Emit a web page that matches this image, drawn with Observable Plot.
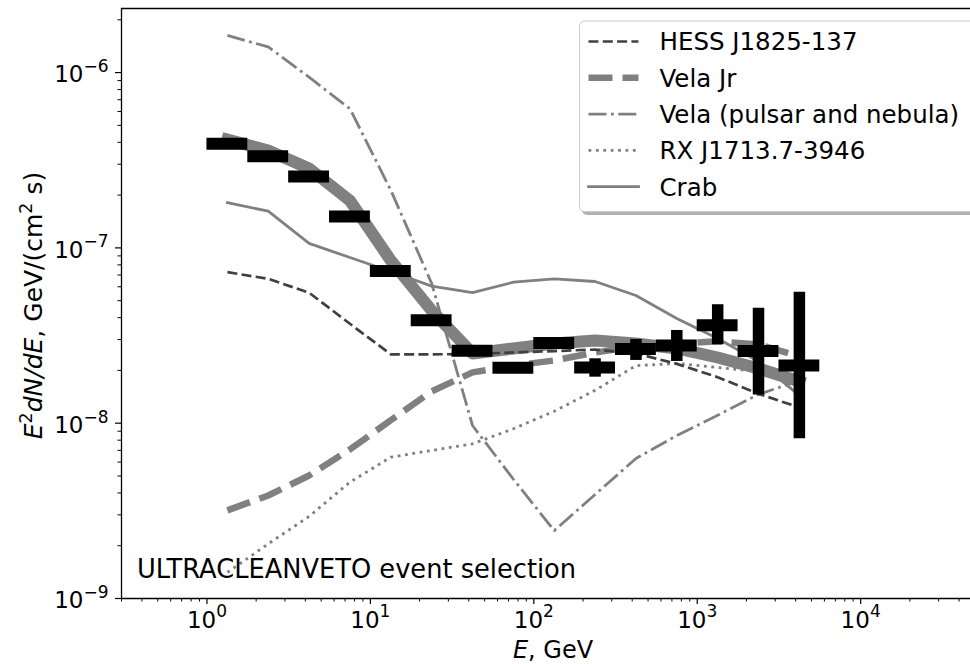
<!DOCTYPE html>
<html>
<head>
<meta charset="utf-8">
<script src="https://cdn.jsdelivr.net/npm/d3@7"></script>
<script src="https://cdn.jsdelivr.net/npm/@observablehq/plot@0.6"></script>
<style>
  html, body { margin: 0; padding: 0; background: #fff; }
  #chart { width: 970px; height: 664px; overflow: hidden; }
</style>
</head>
<body>
<div id="chart"></div>
<script>
// Energy nodes of the model spectra (GeV): centres of 0.25-dex bins
const modelEnergy = [1.334, 2.371, 4.217, 7.499, 13.34, 23.71, 42.17, 74.99, 133.4, 237.1, 421.7, 749.9, 1334, 2371, 4217];

// Model spectra, E^2 dN/dE in GeV/(cm^2 s)
const totalFlux = [4.15e-7, 3.59e-7, 2.84e-7, 1.86e-7, 8.47e-8, 4.39e-8, 2.50e-8, 2.67e-8, 2.85e-8, 2.96e-8, 2.85e-8, 2.67e-8, 2.37e-8, 2.05e-8, 1.73e-8];
const hessFlux = [7.27e-8, 6.66e-8, 5.55e-8, 3.69e-8, 2.47e-8, 2.47e-8, 2.48e-8, 2.53e-8, 2.58e-8, 2.63e-8, 2.50e-8, 2.18e-8, 1.83e-8, 1.47e-8, 1.23e-8];
const velaJrFlux = [3.18e-9, 3.87e-9, 5.03e-9, 7.08e-9, 1.04e-8, 1.52e-8, 1.95e-8, 2.13e-8, 2.28e-8, 2.53e-8, 2.74e-8, 2.85e-8, 2.93e-8, 2.81e-8, 2.40e-8];
const velaFlux = [1.63e-6, 1.40e-6, 9.41e-7, 6.22e-7, 2.13e-7, 6.27e-8, 9.70e-9, 4.79e-9, 2.44e-9, 3.92e-9, 6.29e-9, 8.51e-9, 1.11e-8, 1.46e-8, 1.75e-8];
const rxFlux = [1.41e-9, 2.05e-9, 2.94e-9, 4.61e-9, 6.40e-9, 6.99e-9, 7.63e-9, 9.29e-9, 1.17e-8, 1.54e-8, 2.13e-8, 2.19e-8, 2.08e-8, 1.97e-8, 1.85e-8];
const crabFlux = [1.81e-7, 1.62e-7, 1.06e-7, 8.81e-8, 7.33e-8, 6.05e-8, 5.55e-8, 6.37e-8, 6.66e-8, 6.43e-8, 5.35e-8, 3.96e-8, 3.04e-8, 2.25e-8, 1.44e-8];

// Measured points: energy bins (GeV) and fluxes with uncertainties
const binLow  = [1, 1.778, 3.162, 5.623, 10, 17.78, 31.62, 56.23, 100, 177.8, 316.2, 562.3, 1000, 1778, 3162];
const binHigh = [1.778, 3.162, 5.623, 10, 17.78, 31.62, 56.23, 100, 177.8, 316.2, 562.3, 1000, 1778, 3162, 5623];
const binMid  = [1.334, 2.371, 4.217, 7.499, 13.34, 23.71, 42.17, 74.99, 133.4, 237.1, 421.7, 749.9, 1334, 2371, 4217];
const pointFlux = [3.92e-7, 3.33e-7, 2.55e-7, 1.51e-7, 7.38e-8, 3.86e-8, 2.59e-8, 2.07e-8, 2.87e-8, 2.08e-8, 2.65e-8, 2.77e-8, 3.62e-8, 2.58e-8, 2.13e-8];
const pointLow  = [3.80e-7, 3.24e-7, 2.48e-7, 1.47e-7, 7.15e-8, 3.72e-8, 2.48e-8, 1.97e-8, 2.73e-8, 1.83e-8, 2.28e-8, 2.25e-8, 2.80e-8, 1.45e-8, 8.14e-9];
const pointHigh = [4.04e-7, 3.42e-7, 2.62e-7, 1.55e-7, 7.61e-8, 4.00e-8, 2.70e-8, 2.17e-8, 3.01e-8, 2.33e-8, 3.00e-8, 3.38e-8, 4.74e-8, 4.53e-8, 5.59e-8];

// Axis ticks
const xMajor = [1, 10, 100, 1000, 10000];
const yMajor = [1e-9, 1e-8, 1e-7, 1e-6];
const xDomain = [0.3, 4.7e4];
const yDomain = [1e-9, 2.32e-6];

const xMinor = [];
for (let e = -1; e <= 4; e++) for (let m = 2; m <= 9; m++) {
  const v = m * Math.pow(10, e);
  if (v >= xDomain[0] && v <= xDomain[1]) xMinor.push(v);
}
const yMinor = [];
for (let e = -9; e <= -6; e++) for (let m = 2; m <= 9; m++) {
  const v = m * Math.pow(10, e);
  if (v >= yDomain[0] && v <= yDomain[1]) yMinor.push(v);
}

const series = (ys) => modelEnergy.map((e, i) => ({e, f: ys[i]}));
const idx = d3.range(pointFlux.length);
const grey = "#808080";
const dark = "#404040";
const font = "DejaVu Sans";

// Legend entries with the line style of each source
const legendItems = [
  {label: "HESS J1825-137", stroke: dark, width: 2.7, dash: "10,4.3"},
  {label: "Vela Jr", stroke: grey, width: 6.5, dash: "24,10"},
  {label: "Vela (pulsar and nebula)", stroke: grey, width: 2.8, dash: "18,4.5,2.8,4.5"},
  {label: "RX J1713.7-3946", stroke: grey, width: 2.8, dash: "2.8,4.6"},
  {label: "Crab", stroke: grey, width: 2.8, dash: null}
];

const expFormat = d => `10^${Math.round(Math.log10(d))}`;
const blank = () => "";

const plot = Plot.plot({
  width: 970,
  height: 664,
  marginLeft: 121,
  marginRight: 0,
  marginTop: 8,
  marginBottom: 66,
  style: {fontFamily: font, fontSize: "23px", color: "#000", background: "#fff", overflow: "hidden"},
  x: {type: "log", domain: xDomain},
  y: {type: "log", domain: yDomain},
  marks: [
    // axes: minor then major ticks
    Plot.axisX(xMinor, {tickSize: 3.5, tickFormat: blank, label: null, strokeWidth: 1}),
    Plot.axisY(yMinor, {tickSize: 3.5, tickFormat: blank, label: null, strokeWidth: 1}),
    Plot.axisX(xMajor, {tickSize: 6, tickFormat: blank, label: null, strokeWidth: 1.2}),
    Plot.axisY(yMajor, {tickSize: 6, tickFormat: blank, label: null, strokeWidth: 1.2}),
    // power-of-ten tick labels
    Plot.text(xMajor, {x: d => d, text: expFormat, frameAnchor: "bottom", lineAnchor: "top", dy: 13, fontSize: 23, fontFamily: font, fill: "#000"}),
    Plot.text(yMajor, {y: d => d, text: expFormat, frameAnchor: "left", textAnchor: "end", dx: -13, dy: 2.5, fontSize: 23, fontFamily: font, fill: "#000"}),
    // model spectra
    Plot.line(series(totalFlux), {x: "e", y: "f", stroke: grey, strokeWidth: 12, strokeLinejoin: "round", strokeLinecap: "square"}),
    Plot.line(series(crabFlux), {x: "e", y: "f", stroke: grey, strokeWidth: 2.8, strokeLinejoin: "round", strokeLinecap: "square"}),
    Plot.line(series(rxFlux), {x: "e", y: "f", stroke: grey, strokeWidth: 2.8, strokeDasharray: "2.8,4.6", strokeLinecap: "butt"}),
    Plot.line(series(velaFlux), {x: "e", y: "f", stroke: grey, strokeWidth: 2.8, strokeDasharray: "18,4.5,2.8,4.5", strokeLinecap: "butt"}),
    Plot.line(series(velaJrFlux), {x: "e", y: "f", stroke: grey, strokeWidth: 6.5, strokeDasharray: "24,10", strokeLinecap: "butt"}),
    Plot.line(series(hessFlux), {x: "e", y: "f", stroke: dark, strokeWidth: 2.7, strokeDasharray: "10,4.3", strokeLinecap: "butt"}),
    // measured points: energy bins and flux uncertainties
    Plot.ruleY(idx, {y: i => pointFlux[i], x1: i => binLow[i], x2: i => binHigh[i], stroke: "#000", strokeWidth: 12}),
    Plot.ruleX(idx, {x: i => binMid[i], y1: i => pointLow[i], y2: i => pointHigh[i], stroke: "#000", strokeWidth: 11.5}),
    // spines
    Plot.ruleX([xDomain[0]], {stroke: "#000", strokeWidth: 1.3}),
    Plot.ruleY([yDomain[0]], {stroke: "#000", strokeWidth: 1.3}),
    Plot.ruleY([yDomain[1]], {stroke: "#000", strokeWidth: 1.3})
  ]
});

document.getElementById("chart").appendChild(plot);

const NS = "http://www.w3.org/2000/svg";
// Raise the exponent of each power-of-ten label
plot.querySelectorAll("text").forEach(t => {
  const s = t.textContent;
  if (!/^10\^/.test(s)) return;
  const [base, exp] = s.split("^");
  t.textContent = "";
  const a = document.createElementNS(NS, "tspan");
  a.textContent = base;
  t.appendChild(a);
  const b = document.createElementNS(NS, "tspan");
  b.textContent = exp.replace("-", "\u2212");
  b.setAttribute("dy", "-10.5");
  b.setAttribute("font-size", "17");
  t.appendChild(b);
});

const svg = d3.select(plot);

// y-axis title
const yl = svg.append("text")
  .attr("transform", "translate(41.5,305.5) rotate(-90)")
  .attr("text-anchor", "middle")
  .attr("font-family", font)
  .attr("font-size", 25)
  .attr("fill", "#000");
yl.append("tspan").attr("font-style", "italic").text("E");
yl.append("tspan").attr("font-size", 17.5).attr("dy", -10).text("2");
yl.append("tspan").attr("font-style", "italic").attr("dy", 10).text("dN/dE");
yl.append("tspan").text(", GeV/(cm");
yl.append("tspan").attr("font-size", 17.5).attr("dy", -10).text("2");
yl.append("tspan").attr("dy", 10).text(" s)");

// x-axis title
const xl = svg.append("text")
  .attr("x", 553).attr("y", 658)
  .attr("text-anchor", "middle")
  .attr("font-family", font)
  .attr("font-size", 24)
  .attr("fill", "#000");
xl.append("tspan").attr("font-style", "italic").text("E");
xl.append("tspan").text(", GeV");

// event selection note
svg.append("text")
  .attr("x", 137).attr("y", 578)
  .attr("text-anchor", "start")
  .attr("font-family", font)
  .attr("font-size", 25.7)
  .attr("fill", "#000")
  .text("ULTRACLEANVETO event selection");

// legend box
const lg = svg.append("g");
lg.append("rect").attr("x", 582).attr("y", 24).attr("width", 420).attr("height", 191)
  .attr("rx", 5).attr("fill", "#000").attr("fill-opacity", 0.3);
lg.append("rect").attr("x", 579.5).attr("y", 21).attr("width", 420).attr("height", 190.5)
  .attr("rx", 5).attr("fill", "#fff").attr("stroke", "#cccccc").attr("stroke-width", 1);
legendItems.forEach((d, i) => {
  const y = 41.5 + i * 36.3;
  lg.append("line").attr("x1", 588.5).attr("x2", 638.5).attr("y1", y).attr("y2", y)
    .attr("stroke", d.stroke).attr("stroke-width", d.width)
    .attr("stroke-dasharray", d.dash).attr("stroke-linecap", d.dash ? "butt" : "square");
  lg.append("text").attr("x", 659.5).attr("y", y).attr("dy", "0.36em")
    .attr("text-anchor", "start")
    .attr("font-family", font).attr("font-size", 24.5).attr("fill", "#000")
    .text(d.label);
});
</script>
</body>
</html>
